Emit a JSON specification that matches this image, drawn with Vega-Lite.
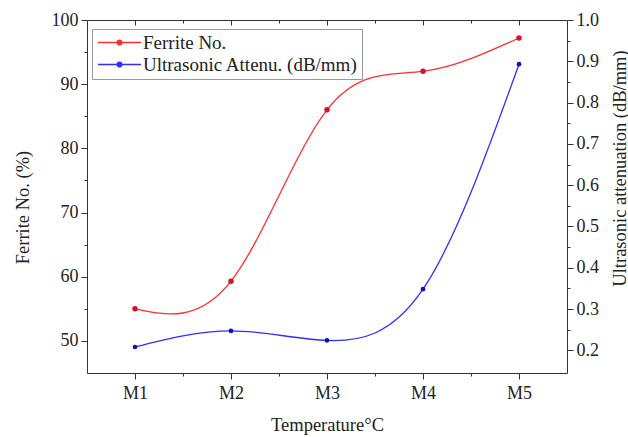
{
  "$schema": "https://vega.github.io/schema/vega-lite/v6.json",
  "width": 480,
  "height": 353,
  "autosize": {"type": "none"},
  "padding": {"left": 87, "top": 20, "right": 61, "bottom": 64},
  "background": "white",
  "config": {
    "font": "Liberation Serif",
    "view": {"stroke": null},
    "axis": {
      "labelFontSize": 18, "titleFontSize": 18.5, "labelColor": "#222", "titleColor": "#222",
      "titleFontWeight": "normal", "domainColor": "#333", "tickColor": "#333", "grid": false,
      "labelFont": "Liberation Serif", "titleFont": "Liberation Serif"
    },
    "legend": {"labelFont": "Liberation Serif", "labelFontSize": 19, "labelColor": "#222"}
  },
  "data": {"values": [
    {"sample": "M1", "idx": 1, "series": "Ferrite No.", "value": 55.0},
    {"sample": "M2", "idx": 2, "series": "Ferrite No.", "value": 59.3},
    {"sample": "M3", "idx": 3, "series": "Ferrite No.", "value": 86.0},
    {"sample": "M4", "idx": 4, "series": "Ferrite No.", "value": 92.0},
    {"sample": "M5", "idx": 5, "series": "Ferrite No.", "value": 97.2},
    {"sample": "M1", "idx": 1, "series": "Ultrasonic Attenu. (dB/mm)", "value": 0.208},
    {"sample": "M2", "idx": 2, "series": "Ultrasonic Attenu. (dB/mm)", "value": 0.247},
    {"sample": "M3", "idx": 3, "series": "Ultrasonic Attenu. (dB/mm)", "value": 0.224},
    {"sample": "M4", "idx": 4, "series": "Ultrasonic Attenu. (dB/mm)", "value": 0.348},
    {"sample": "M5", "idx": 5, "series": "Ultrasonic Attenu. (dB/mm)", "value": 0.893}
  ]},
  "layer": [
    {
      "transform": [{"filter": "datum.series === 'Ferrite No.'"}],
      "mark": {"type": "line", "interpolate": "natural", "strokeWidth": 1.3},
      "encoding": {
        "x": {"field": "idx", "type": "quantitative", "scale": {"domain": [0.5, 5.5], "nice": false},
          "axis": {"orient": "bottom", "values": [1, 2, 3, 4, 5], "labelExpr": "'M' + datum.value", "title": "Temperature°C", "tickSize": 6, "labelPadding": 5, "titleY": 57, "titleBaseline": "alphabetic"}},
        "y": {"field": "value", "type": "quantitative", "scale": {"domain": [45, 100], "nice": false, "zero": false},
          "axis": {"orient": "left", "values": [50, 60, 70, 80, 90, 100], "title": "Ferrite No. (%)", "tickSize": 6, "labelPadding": 3, "titleX": -65, "titleY": 187, "titleAngle": -90, "titleAlign": "center", "titleBaseline": "middle"}},
        "color": {"field": "series", "type": "nominal",
          "scale": {"domain": ["Ferrite No.", "Ultrasonic Attenu. (dB/mm)"], "range": ["#ff2e2e", "#2e2eff"]},
          "legend": {"title": null, "orient": "none", "legendX": 5, "legendY": 9,
            "symbolType": "M-3,0L3,0M-0.33,0A0.33,0.33,0,1,0,0.33,0A0.33,0.33,0,1,0,-0.33,0Z",
            "symbolSize": 205, "symbolStrokeWidth": 1.3, "symbolOffset": 14, "labelOffset": 14,
            "rowPadding": 2, "padding": 4, "strokeColor": "#999", "labelLimit": 400,
            "encode": {"symbols": {"update": {"fill": {"scale": "color", "field": "value"}}}}}}
      }
    },
    {
      "transform": [{"filter": "datum.series === 'Ferrite No.'"}],
      "mark": {"type": "point", "filled": true, "size": 30, "opacity": 1, "color": "#d8102a"},
      "encoding": {
        "x": {"field": "idx", "type": "quantitative", "scale": {"domain": [0.5, 5.5], "nice": false},
          "axis": {"orient": "bottom", "values": [1.5, 2.5, 3.5, 4.5], "labels": false, "title": null, "tickSize": 3, "domain": false}},
        "y": {"field": "value", "type": "quantitative", "scale": {"domain": [45, 100], "nice": false, "zero": false},
          "axis": {"orient": "left", "values": [55, 65, 75, 85, 95], "labels": false, "title": null, "tickSize": 3, "domain": false}}
      }
    },
    {
      "transform": [{"filter": "datum.series !== 'Ferrite No.'"}],
      "mark": {"type": "line", "interpolate": "natural", "strokeWidth": 1.3},
      "encoding": {
        "x": {"field": "idx", "type": "quantitative", "scale": {"domain": [0.5, 5.5], "nice": false},
          "axis": {"orient": "top", "values": [1, 2, 3, 4, 5], "labels": false, "title": null, "tickSize": -5}},
        "y": {"field": "value", "type": "quantitative", "scale": {"domain": [0.145, 1.0], "nice": false, "zero": false},
          "axis": {"orient": "right", "values": [0.2, 0.3, 0.4, 0.5, 0.6, 0.7, 0.8, 0.9, 1.0], "format": ".1f", "title": "Ultrasonic attenuation (dB/mm)", "tickSize": 6, "labelPadding": 3, "titleX": 52, "titleY": 148, "titleAngle": -90, "titleAlign": "center", "titleBaseline": "middle"}},
        "color": {"field": "series", "type": "nominal",
          "scale": {"domain": ["Ferrite No.", "Ultrasonic Attenu. (dB/mm)"], "range": ["#ff2e2e", "#2e2eff"]}}
      }
    },
    {
      "transform": [{"filter": "datum.series !== 'Ferrite No.'"}],
      "mark": {"type": "point", "filled": true, "size": 22, "opacity": 1, "color": "#1010c0"},
      "encoding": {
        "x": {"field": "idx", "type": "quantitative", "scale": {"domain": [0.5, 5.5], "nice": false},
          "axis": {"orient": "top", "values": [1.5, 2.5, 3.5, 4.5], "labels": false, "title": null, "tickSize": -3, "domain": false}},
        "y": {"field": "value", "type": "quantitative", "scale": {"domain": [0.145, 1.0], "nice": false, "zero": false},
          "axis": {"orient": "right", "values": [0.25, 0.35, 0.45, 0.55, 0.65, 0.75, 0.85, 0.95], "labels": false, "title": null, "tickSize": 3, "domain": false}}
      }
    }
  ],
  "resolve": {"scale": {"y": "independent"}, "axis": {"x": "independent", "y": "independent"}}
}
